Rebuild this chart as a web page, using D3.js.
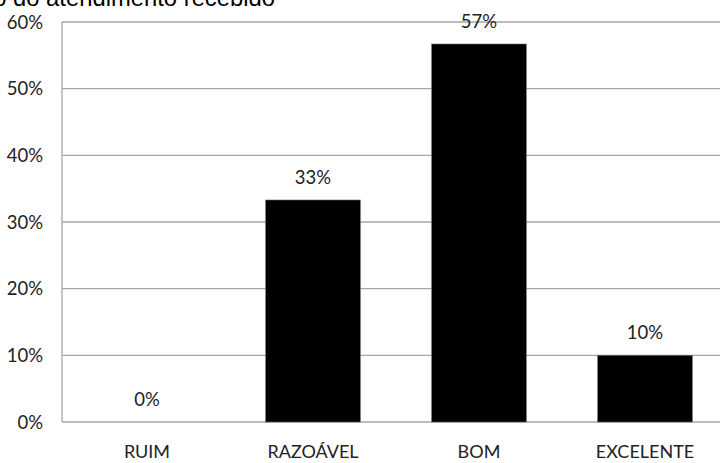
<!DOCTYPE html>
<html>
<head>
<meta charset="utf-8">
<script src="https://cdn.jsdelivr.net/npm/d3@7"></script>
<style>
  body { margin: 0; background: #fff; }
  text { font-family: Lato, "Open Sans", sans-serif; }
</style>
</head>
<body>
<svg id="chart"></svg>
<script>
const categories = ["RUIM", "RAZOÁVEL", "BOM", "EXCELENTE"];
const values = [0, 0.333, 0.567, 0.10];
const valueLabels = ["0%", "33%", "57%", "10%"];
const yTicks = [0, 0.1, 0.2, 0.3, 0.4, 0.5, 0.6];

const width = 720, height = 463;
const svg = d3.select("#chart").attr("width", width).attr("height", height);

// plot runs off the right edge, like the source crop
const x = d3.scaleBand().domain(categories).range([64, 728]).paddingInner(0.43).paddingOuter(0.215);
const y = d3.scaleLinear().domain([0, 0.6]).range([422, 22]);

// gridlines
svg.append("g").selectAll("line")
  .data(yTicks)
  .join("line")
  .attr("x1", 62).attr("x2", width)
  .attr("y1", d => y(d)).attr("y2", d => y(d))
  .attr("stroke", "#a6a6a6").attr("stroke-width", 1.3);

// left axis line
svg.append("line")
  .attr("x1", 62).attr("x2", 62)
  .attr("y1", y(0.6)).attr("y2", y(0))
  .attr("stroke", "#a6a6a6").attr("stroke-width", 1.3);

// y tick labels
svg.append("g").selectAll("text")
  .data(yTicks)
  .join("text")
  .attr("x", 43).attr("y", d => y(d) + 6.5)
  .attr("text-anchor", "end")
  .attr("font-size", 18.5).attr("fill", "#222")
  .text(d => Math.round(d * 100) + "%");

// bars
svg.append("g").selectAll("rect")
  .data(values)
  .join("rect")
  .attr("x", (d, i) => x(categories[i]))
  .attr("width", x.bandwidth())
  .attr("y", d => y(d))
  .attr("height", d => y(0) - y(d))
  .attr("fill", "#000")
  .attr("stroke", "#666").attr("stroke-width", 0.6);

// value labels
svg.append("g").selectAll("text")
  .data(values)
  .join("text")
  .attr("x", (d, i) => x(categories[i]) + x.bandwidth() / 2)
  .attr("y", d => y(d) - 16)
  .attr("text-anchor", "middle")
  .attr("font-size", 18.5).attr("fill", "#222")
  .text((d, i) => valueLabels[i]);

// category labels
svg.append("g").selectAll("text")
  .data(categories)
  .join("text")
  .attr("x", d => x(d) + x.bandwidth() / 2)
  .attr("y", 458)
  .attr("text-anchor", "middle")
  .attr("font-size", 18).attr("fill", "#222")
  .text(d => d);

// title, cut off at top-left
svg.append("text")
  .attr("x", 275).attr("y", 6)
  .attr("text-anchor", "end")
  .attr("font-size", 23.8)
  .style("font-family", "'Liberation Sans', Arial, sans-serif")
  .attr("fill", "#000")
  .text("Avaliação do atendimento recebido");
</script>
</body>
</html>
